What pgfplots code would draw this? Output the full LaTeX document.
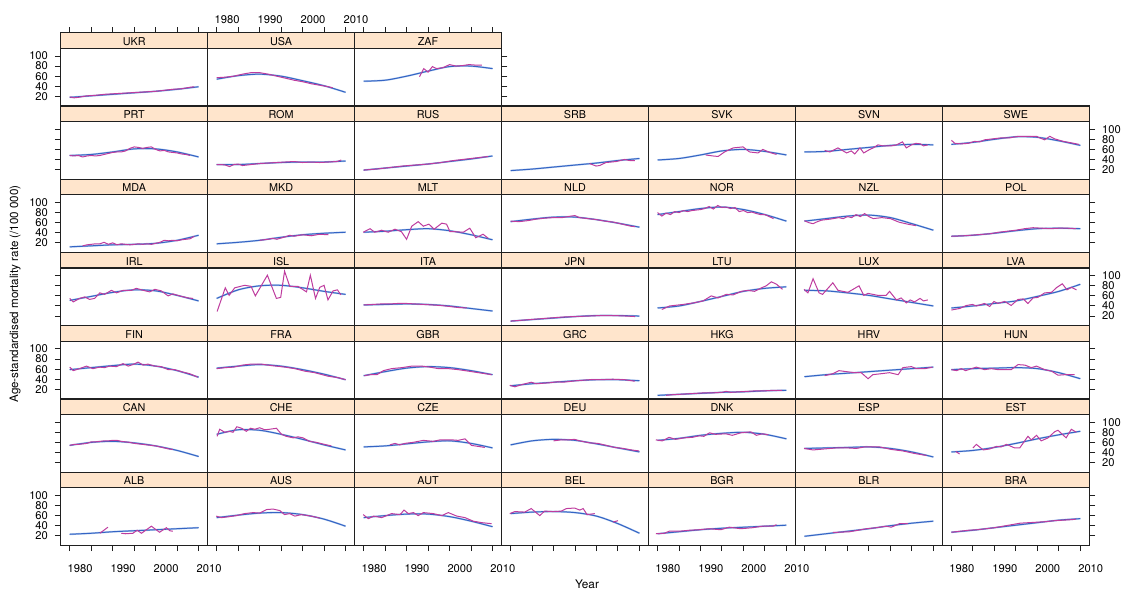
\documentclass[border=0pt]{standalone}
\usepackage{fontspec}
\setmainfont{TeX Gyre Heros}
\usepackage{pgfplots}
\pgfplotsset{compat=1.18}
\definecolor{stripbg}{HTML}{FFE5CC}
\definecolor{framecol}{HTML}{202020}
\definecolor{fitcol}{HTML}{3464C4}
\definecolor{bandcol}{HTML}{B3CBEE}
\definecolor{obscol}{HTML}{BE3C9E}
\newcommand{\tickfont}{\fontsize{5.6}{5.6}\selectfont}
\newcommand{\stripfont}{\fontsize{5.4}{5.4}\selectfont}
\pgfplotsset{
  panel/.style={width=73.475pt, height=28.87pt, scale only axis,
    xmin=1977.9, xmax=2012.1, ymin=0.75, ymax=115.3,
    xtick=\empty, ytick=\empty, clip=false, anchor=north west,
    axis line style={draw=framecol, line width=0.55pt},
    tick style={draw=framecol, line width=0.5pt},
    tick align=outside, major tick length=2.85pt,
    tick label style={font=\tickfont},
    /pgf/number format/assume math mode=true,
    unbounded coords=jump},
  bx/.style={xtick={1980,1985,...,2010}, xtick pos=left, xticklabel pos=left,
    xticklabels={1980,,1990,,2000,,2010}, xticklabel shift=3pt, xticklabel style={xshift=5.2pt}},
  bxn/.style={xtick={1980,1985,...,2010}, xtick pos=left, xticklabel={\mbox{}}},
  tx/.style={xtick={1980,1985,...,2010}, xtick pos=right, xticklabel pos=right,
    xticklabels={1980,,1990,,2000,,2010}, xtick style={yshift=7.75pt}, xticklabel shift=6.1pt, xticklabel style={xshift=5.2pt}},
  txn/.style={xtick={1980,1985,...,2010}, xtick pos=right, xticklabel={\mbox{}}, xtick style={yshift=7.75pt}},
  ly/.style={ytick={20,40,...,100}, ytick pos=left, yticklabel pos=left},
  lyn/.style={ytick={20,40,...,100}, ytick pos=left, yticklabel={\mbox{}}},
  ry/.style={ytick={20,40,...,100}, ytick pos=right, yticklabel pos=right},
  ryn/.style={ytick={20,40,...,100}, ytick pos=right, yticklabel={\mbox{}}},
  band/.style={smooth, color=bandcol, line width=0.9pt},
  fit/.style={smooth, color=fitcol, line width=0.5pt},
  obs/.style={color=obscol, line width=0.5pt},
}
\newcommand{\panel}[6]{%
\begin{axis}[panel, at={({30.35pt+73.475pt*(#1-1)},{-24.15pt-36.62pt*(#2-1)})}, #4,
  after end axis/.code={%
    \draw[fill=stripbg, draw=framecol, line width=0.55pt] (rel axis cs:0,1) rectangle ([yshift=7.75pt]rel axis cs:1,1);
    \node[font=\stripfont, inner sep=0pt] at ([yshift=3.4pt]rel axis cs:0.5,1) {#3};}]
\addplot[band] coordinates {#5};
\addplot[fit] coordinates {#5};
\addplot[obs] coordinates {#6};
\end{axis}}
\begin{document}
\begin{tikzpicture}
\useasboundingbox (0,0) rectangle (560.5pt,-294.5pt);
% ---------- row 1
\panel{1}{1}{UKR}{txn,ly}{(1980,18)(1985,21)(1990,24)(1995,27)(2000,30)(2005,34)(2010,39)}
{(1980,19)(1981,17)(1982,18)(1984,21)(1986,22)(1988,24)(1990,25)(1992,26)(1994,27)(1996,28)(1998,29)(2000,30)(2002,32)(2004,34)(2006,35)(2008,38)(2009,39)}
\panel{2}{1}{USA}{tx}{(1980,54)(1985,61)(1990,64)(1995,60)(2000,51)(2005,41)(2010,28)}
{(1980,57)(1982,58)(1984,60)(1986,64)(1988,67)(1990,67)(1992,64)(1994,60)(1996,56)(1998,52)(2000,49)(2002,45)(2004,42)(2006,39)(2007,37)}
\panel{3}{1}{ZAF}{txn,ryn}{(1980,50)(1985,52)(1990,60)(1995,70)(2000,79)(2005,80)(2010,75)}
{(1993,59)(1994,75)(1995,68)(1996,79)(1997,75)(1998.5,77)(2000,83)(2001.5,80)(2003,81)(2004.5,83)(2006,82)(2007.5,82)}
% ---------- row 2
\panel{1}{2}{PRT}{lyn}{(1980,48)(1985,50)(1990,55)(1995,61)(2000,61)(2005,55)(2010,45)}
{(1980,48)(1981,47)(1982,48)(1983,45)(1984,47)(1985,48)(1986,47)(1987,48)(1988,50)(1989,52)(1990,54)(1991,55)(1992,55)(1993,57)(1994,62)(1995,65)(1996,64)(1997,62)(1998,64)(1999,65)(2000,60)(2001,57)(2002,58)(2003,55)(2004,54)(2005,53)(2006,51)(2007,50)(2008,48)}
\panel{2}{2}{ROM}{}{(1980,30)(1985,30)(1990,32)(1995,34)(2000,35)(2005,35)(2010,37)}
{(1980,30)(1981,30)(1982,29)(1983,26)(1984,30)(1985,31)(1986,28)(1987,29)(1988,30)(1990,32)(1992,33)(1994,34)(1996,35)(1998,36)(2000,34)(2002,35)(2004,34)(2006,35)(2008,36)(2009,39)}
\panel{3}{2}{RUS}{}{(1980,19)(1985,23)(1990,27)(1995,31)(2000,36)(2005,41)(2010,47)}
{(1980,19)(1983,21)(1986,24)(1989,27)(1992,29)(1995,31)(1998,34)(2001,38)(2004,41)(2007,44)(2009,46)}
\panel{4}{2}{SRB}{}{(1980,18)(1985,21)(1990,25)(1995,29)(2000,33)(2005,38)(2010,42)}
{(1998.4,32)(1999.9,27)(2000.7,28)(2002.2,34)(2004.6,36)(2006.5,40)(2007.7,38)(2008.9,38)}
\panel{5}{2}{SVK}{}{(1980,39)(1985,42)(1990,49)(1995,57)(2000,60)(2005,56)(2010,49)}
{(1991.2,49)(1992.9,47)(1994.1,46)(1995.6,55)(1997.6,63)(1999.9,65)(2001.4,55)(2003.4,53)(2004.5,60)(2006.1,54)(2007.7,50)}
\panel{6}{2}{SVN}{}{(1980,55)(1985,56)(1990,60)(1995,64)(2000,68)(2005,70)(2010,69)}
{(1984.7,58)(1985.9,55)(1987.8,63)(1989.8,53)(1990.9,57)(1991.7,51)(1992.9,63)(1993.8,53)(1995.2,60)(1996,63)(1997.1,69)(1998.3,67)(2000.2,67)(2001.4,69)(2002.8,75)(2003.7,63)(2004.9,69)(2005.9,72)(2007,71)(2007.7,67)(2008.7,69)}
\panel{7}{2}{SWE}{ry}{(1980,70)(1985,74)(1990,80)(1995,85)(2000,84)(2005,77)(2010,68)}
{(1980,78)(1980.8,72)(1982.3,71)(1983.9,72)(1985.4,76)(1986.6,75)(1987.7,79)(1989.7,81)(1991.6,83)(1993.6,83)(1995.5,86)(1997.4,86)(1999.8,86)(2000.5,83)(2001.7,79)(2002.9,86)(2004,81)(2006,76)(2007.9,73)(2009.7,70)}
% ---------- row 3
\panel{1}{3}{MDA}{ly}{(1980,12)(1985,14)(1990,16)(1995,17)(2000,19)(2005,25)(2010,35)}
{(1983,14)(1984,16)(1985,17)(1986,18)(1987,18)(1988,21)(1989,17)(1990,20)(1991,16)(1992,18)(1993,17)(1994,16)(1995,17)(1996,18)(1997,17)(1998,18)(1999,17)(2000,19)(2001,21)(2002,25)(2003,24)(2004,25)(2005,24)(2006,26)(2007,27)(2008,28)(2009,33)}
\panel{2}{3}{MKD}{}{(1980,18)(1985,21)(1990,25)(1995,31)(2000,36)(2005,39)(2010,41)}
{(1990,25)(1992,27)(1993,29)(1994,27)(1996,32)(1997,35)(1998,33)(2000,36)(2002,34)(2004,37)(2006,36)}
\panel{3}{3}{MLT}{}{(1980,41)(1985,43)(1990,46)(1995,48)(2000,44)(2005,36)(2010,26)}
{(1979.9,41)(1981.5,48)(1982.6,41)(1984.2,45)(1985.7,41)(1987.3,47)(1988.8,42)(1990,27)(1991.2,53)(1992.7,62)(1993.9,53)(1995.2,57)(1996.4,47)(1998.2,59)(1999.3,57)(2000.1,42)(2001.3,42)(2003.2,41)(2004.7,49)(2006.1,30)(2007.8,37)(2009,29)}
\panel{4}{3}{NLD}{}{(1980,62)(1985,67)(1990,71)(1995,71)(2000,66)(2005,59)(2010,51)}
{(1980,63)(1982,62)(1984,64)(1986,67)(1988,69)(1990,70)(1992,70)(1994,73)(1995,74)(1996,70)(1998,68)(2000,66)(2002,63)(2004,61)(2006,57)(2008,53)(2009,52)}
\panel{5}{3}{NOR}{}{(1980,76)(1985,82)(1990,88)(1995,91)(2000,86)(2005,76)(2010,63)}
{(1980,80)(1981,73)(1982,79)(1983,76)(1984,82)(1985,80)(1986,84)(1987,82)(1988,84)(1990,86)(1991,88)(1992,92)(1993,87)(1994,94)(1995,90)(1996,91)(1997,88)(1998,90)(1999,82)(2000,84)(2001,80)(2002,81)(2003,78)(2004,76)(2005,76)(2006,72)(2007,68)}
\panel{6}{3}{NZL}{}{(1980,63)(1985,68)(1990,73)(1995,75)(2000,70)(2005,58)(2010,45)}
{(1980,64)(1981,60)(1982,58)(1983,62)(1984,65)(1986,67)(1988,70)(1989,68)(1990,72)(1991,70)(1992,76)(1993,72)(1994,78)(1995,72)(1996,68)(1998,70)(2000,68)(2002,61)(2004,57)(2006,54)}
\panel{7}{3}{POL}{ryn}{(1980,33)(1985,35)(1990,39)(1995,44)(2000,48)(2005,49)(2010,48)}
{(1980,33)(1983,34)(1986,36)(1989,38)(1991,41)(1993,43)(1995,45)(1997,48)(1999,50)(2001,49)(2003,48)(2005,49)(2007,49)(2009,48)}
% ---------- row 4
\panel{1}{4}{IRL}{lyn}{(1980,51)(1985,59)(1990,67)(1995,72)(2000,70)(2005,61)(2010,50)}
{(1980,55)(1980.8,48)(1982.3,55)(1983.5,58)(1984.6,53)(1985.8,55)(1987,66)(1988.1,63)(1989.7,71)(1990.9,66)(1992.4,71)(1994.4,71)(1995.5,75)(1997.1,71)(1998.6,68)(1999.8,73)(2001.3,70)(2002.9,60)(2004,64)(2005.6,60)(2007.5,56)(2008.7,55)}
\panel{2}{4}{ISL}{}{(1980,55)(1985,72)(1990,80)(1995,81)(2000,76)(2005,69)(2010,63)}
{(1980.1,29)(1982,76)(1982.9,61)(1984.2,76)(1986.5,81)(1988,79)(1989,60)(1991.8,101)(1993.9,55)(1994.9,57)(1995.8,109)(1997,79)(1998.9,79)(2000.9,68)(2001.8,101)(2003,55)(2004,77)(2005,81)(2005.9,52)(2007.1,70)(2008.1,72)(2008.9,62)}
\panel{3}{4}{ITA}{}{(1980,42)(1985,43)(1990,44)(1995,43)(2000,40)(2005,35)(2010,30)}
{(1980,42)(1982,43)(1984,44)(1986,44)(1988,45)(1990,45)(1992,44)(1994,43)(1996,42)(1998,41)(2000,39)(2002,37)(2004,36)}
\panel{4}{4}{JPN}{}{(1980,10)(1985,13)(1990,16)(1995,19)(2000,21)(2005,21)(2010,20)}
{(1980,10)(1983,12)(1986,14)(1989,16)(1992,18)(1995,19)(1998,20)(2001,21)(2004,21)(2007,20)(2009,19)}
\panel{5}{4}{LTU}{}{(1980,36)(1985,40)(1990,49)(1995,59)(2000,69)(2005,75)(2010,78)}
{(1981,33)(1982.8,40)(1985.9,43)(1988.3,46)(1990.6,50)(1992.5,60)(1994.1,56)(1996,63)(1997.6,62)(1999.5,69)(2001,71)(2002.6,69)(2004.2,76)(2005.3,80)(2006.5,88)(2007.7,83)(2009.1,73)}
\panel{6}{4}{LUX}{}{(1980,71)(1985,70)(1990,66)(1995,61)(2000,54)(2005,47)(2010,40)}
{(1979.9,73)(1980.8,66)(1982,94)(1983.4,66)(1984.2,63)(1986.6,86)(1987.8,71)(1990.1,67)(1992.7,80)(1993.8,61)(1994.8,65)(1997.1,61)(1999,61)(1999.8,69)(2001.4,52)(2002.5,56)(2003.7,46)(2004.6,52)(2005.6,48)(2006.9,55)(2007.7,50)(2008.7,52)}
\panel{7}{4}{LVA}{ry}{(1980,36)(1985,40)(1990,45)(1995,50)(2000,59)(2005,69)(2010,83)}
{(1980,32)(1981.9,35)(1983.5,41)(1984.9,43)(1985.8,40)(1987.7,45)(1988.9,39)(1989.9,49)(1990.8,45)(1992.4,49)(1993.9,41)(1995.5,53)(1996.7,54)(1997.8,45)(1999,56)(2000.1,57)(2001.7,66)(2003.3,67)(2004.4,76)(2005.8,84)(2006.9,72)(2007.9,77)(2009.1,72)}
% ---------- row 5
\panel{1}{5}{FIN}{ly}{(1980,59)(1985,63)(1990,67)(1995,70)(2000,66)(2005,57)(2010,44)}
{(1980,64)(1980.8,57)(1982.3,61)(1983.9,66)(1985.4,61)(1987,64)(1988.1,63)(1989.3,66)(1990.9,65)(1992.4,71)(1993.6,66)(1994.7,69)(1995.9,74)(1997.1,68)(1998.2,70)(1999.8,66)(2001.3,65)(2002.9,59)(2004.4,59)(2006.4,54)(2007.9,51)(2009.8,44)}
\panel{2}{5}{FRA}{}{(1980,62)(1985,66)(1990,69)(1995,66)(2000,59)(2005,50)(2010,39)}
{(1980,61)(1982,63)(1984,64)(1986,68)(1988,70)(1990.4,70)(1992.8,67)(1995.9,64)(1998.2,61)(2000.5,56)(2002.8,53)(2005.9,46)(2008.3,43)(2010,39)}
\panel{3}{5}{GBR}{}{(1980,47)(1985,55)(1990,62)(1995,65)(2000,63)(2005,57)(2010,49)}
{(1980.2,47)(1981.5,49)(1983.1,49)(1984.6,57)(1986.5,61)(1988.9,63)(1991.2,66)(1993.5,66)(1995.4,64)(1997.4,61)(1999.7,61)(2002,59)(2004.4,56)(2006.7,53)(2009.8,49)}
\panel{4}{5}{GRC}{}{(1980,27)(1985,31)(1990,34)(1995,37)(2000,39)(2005,39)(2010,37)}
{(1979.8,28)(1981,25)(1982.9,30)(1984.8,34)(1986,31)(1989.1,33)(1991,35)(1992.2,34)(1995.3,37)(1998.4,39)(2000.7,39)(2003.8,40)(2006.6,39)(2008.9,36)}
\panel{5}{5}{HKG}{}{(1980,8)(1985,10)(1990,12)(1995,14)(2000,15)(2005,17)(2010,18)}
{(1982,8)(1983,9)(1985,10)(1987,11)(1989,12)(1991,13)(1993,13)(1995,14)(1996,16)(1997,14)(1999,15)(2001,16)(2003,17)(2005,17)(2007,18)(2009,18)}
\panel{6}{5}{HRV}{}{(1980,45)(1985,49)(1990,52)(1995,55)(2000,58)(2005,61)(2010,64)}
{(1984.7,47)(1986.6,51)(1988,57)(1989.8,55)(1991.7,53)(1993.2,53)(1994.8,41)(1995.9,49)(1997.9,51)(1999.8,53)(2001.8,49)(2002.9,63)(2004.9,65)(2006,61)(2008,61)(2009.8,64)}
\panel{7}{5}{HUN}{ryn}{(1980,59)(1985,61)(1990,62)(1995,63)(2000,61)(2005,53)(2010,41)}
{(1980,59)(1981.2,57)(1982.3,61)(1983.3,57)(1985.8,64)(1987.7,59)(1989.3,61)(1990.8,59)(1993.9,59)(1995.5,69)(1997.1,68)(1998.6,63)(1999.8,66)(2001.7,59)(2003.3,56)(2004.8,48)(2006.4,49)(2008.7,49)}
% ---------- row 6
\panel{1}{6}{CAN}{lyn}{(1980,54)(1985,60)(1990,62)(1995,59)(2000,53)(2005,44)(2010,32)}
{(1980,54)(1981,56)(1982,56)(1983,57)(1984,58)(1985,61)(1986,61)(1987,62)(1988,63)(1989,63)(1990,64)(1991,64)(1992,62)(1993,61)(1994,60)(1995,58)(1996,57)(1997,56)(1998,55)(1999,54)(2000,53)(2001,51)(2002,49)(2003,47)(2004,46)}
\panel{2}{6}{CHE}{}{(1980,76)(1985,85)(1990,84)(1995,76)(2000,66)(2005,55)(2010,45)}
{(1980.1,72)(1980.7,86)(1981.9,80)(1983,82)(1983.8,80)(1984.7,91)(1985.8,88)(1986.9,82)(1987.9,88)(1988.9,86)(1990,89)(1991.2,85)(1992.3,86)(1993.9,88)(1995.1,76)(1996.2,72)(1997.8,69)(1998.9,71)(2000.1,69)(2001.6,62)(2003.2,60)(2005.1,56)(2006.7,53)}
\panel{3}{6}{CZE}{}{(1980,51)(1985,53)(1990,57)(1995,61)(2000,63)(2005,58)(2010,49)}
{(1986.1,55)(1987.3,58)(1988.4,55)(1989.6,58)(1991.5,60)(1993.9,64)(1996.2,62)(1997.8,65)(2000.5,65)(2002,64)(2003.6,67)(2005.1,54)(2006.7,52)(2008.2,50)}
\panel{4}{6}{DEU}{}{(1980,55)(1985,63)(1990,66)(1995,64)(2000,57)(2005,49)(2010,41)}
{(1990,63)(1991.8,65)(1993.4,65)(1994.9,66)(1996.1,63)(1998.4,59)(2000.3,58)(2002.3,54)(2004.2,50)(2006.2,48)(2008.1,45)(2009.9,43)}
\panel{5}{6}{DNK}{}{(1980,64)(1985,68)(1990,74)(1995,78)(2000,80)(2005,76)(2010,67)}
{(1979.6,65)(1981.1,63)(1982.7,70)(1984.2,66)(1986.2,69)(1988.1,70)(1989.7,73)(1990.8,72)(1992.1,79)(1993.5,76)(1995.9,77)(1997.4,74)(1999.4,79)(2001.7,81)(2003,74)(2004.4,77)(2005.8,75)}
\panel{6}{6}{ESP}{}{(1980,48)(1985,49)(1990,50)(1995,51)(2000,48)(2005,41)(2010,31)}
{(1979.9,48)(1982,45)(1984.7,47)(1987.4,49)(1990.1,49)(1992.1,48)(1994,51)(1997.5,51)(2000.2,46)(2002.9,43)(2005.6,38)(2008.4,34)}
\panel{7}{6}{EST}{ry}{(1980,41)(1985,44)(1990,50)(1995,58)(2000,67)(2005,75)(2010,82)}
{(1981,42)(1981.9,37)(1982.5,nan)(1985,49)(1985.8,56)(1987.4,45)(1988.9,47)(1990.5,52)(1991.6,51)(1992.8,56)(1993.9,52)(1994.7,49)(1995.9,49)(1997.8,72)(1998.6,65)(1999.8,74)(2000.9,63)(2002.5,69)(2004,81)(2004.8,84)(2006.7,69)(2007.9,86)(2009.1,80)}
% ---------- row 7
\panel{1}{7}{ALB}{bx,ly}{(1980,23)(1985,25)(1990,28)(1995,30)(2000,32)(2005,34)(2010,36)}
{(1987,25)(1988.9,37)(1990,nan)(1992,25)(1993,24)(1994.7,25)(1995.7,31)(1996.7,25)(1999,39)(2000.9,27)(2002.5,36)(2003.3,30)(2004,29)}
\panel{2}{7}{AUS}{bxn}{(1980,56)(1985,61)(1990,65)(1995,66)(2000,62)(2005,53)(2010,39)}
{(1979.9,59)(1981.1,56)(1983,58)(1984.6,60)(1986.5,64)(1988.5,66)(1990,65)(1991.6,72)(1993.1,73)(1994.7,70)(1995.8,62)(1997,64)(1998.2,59)(1999.7,62)(2002,59)(2004,55)}
\panel{3}{7}{AUT}{bx}{(1980,56)(1985,60)(1990,63)(1995,63)(2000,58)(2005,49)(2010,38)}
{(1979.9,62)(1981.1,54)(1982.3,59)(1984.2,56)(1986.5,64)(1988.5,62)(1989.4,71)(1990.4,64)(1991.6,66)(1992.7,60)(1993.9,66)(1996.2,64)(1998.2,60)(1999.7,66)(2001.7,59)(2003.6,56)(2005.5,49)(2007.5,46)(2009.8,44)}
\panel{4}{7}{BEL}{bxn}{(1980,64)(1985,67)(1990,68)(1995,66)(2000,59)(2005,44)(2010,25)}
{(1979.8,64)(1981,68)(1983.3,67)(1984.8,74)(1986.8,60)(1987.9,69)(1989.9,68)(1991.8,69)(1993,74)(1994.9,75)(1996.1,71)(1996.9,74)(1997.8,62)(1999.6,64)(2001,nan)(2003.8,47)(2005,50)}
\panel{5}{7}{BGR}{bx}{(1980,24)(1985,28)(1990,32)(1995,35)(2000,37)(2005,39)(2010,41)}
{(1979.6,24)(1981.6,25)(1982.7,29)(1985,29)(1987.4,31)(1989.7,32)(1992,34)(1994.7,32)(1996.7,37)(1999.4,34)(2002.1,36)(2004.4,39)(2006.8,39)(2007.7,42)}
\panel{6}{7}{BLR}{bxn}{(1980,19)(1985,24)(1990,29)(1995,34)(2000,40)(2005,45)(2010,49)}
{(1986.6,27)(1987.8,27)(1990.5,28)(1992.5,31)(1994.4,34)(1996.7,36)(1999,39)(2000.2,37)(2002.1,44)(2004.1,44)}
\panel{7}{7}{BRA}{bx,ryn}{(1980,27)(1985,31)(1990,36)(1995,41)(2000,46)(2005,51)(2010,54)}
{(1980,27)(1982,29)(1984,31)(1986,32)(1988,34)(1990,36)(1992,39)(1994,42)(1996,45)(1998,46)(2000,47)(2002,48)(2004,50)(2006,51)(2008,52)(2009,53)}
% ---------- labels
\node[rotate=90, font=\fontsize{5.8}{5.8}\selectfont, inner sep=0pt] at (7.6pt,-147pt) {Age-standardised mortality rate (/100 000)};
\node[font=\fontsize{5.9}{5.9}\selectfont, inner sep=0pt, anchor=base] at (293.5pt,-294.2pt) {Year};
\end{tikzpicture}
\end{document}
